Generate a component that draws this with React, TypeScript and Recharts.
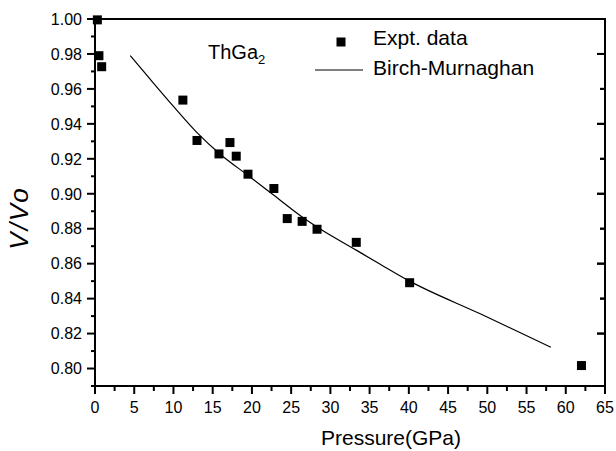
import React from "react";
import { ComposedChart, Scatter, Line, XAxis, YAxis } from "recharts";

const exptP = [0.3, 0.5, 0.85, 11.2, 13.0, 15.8, 17.2, 18.0, 19.5, 22.8, 24.5, 26.4, 28.3, 33.3, 40.1, 62.0];
const exptV = [0.9995, 0.979, 0.9727, 0.9536, 0.9305, 0.9228, 0.9293, 0.9215, 0.9112, 0.903, 0.8858, 0.8842, 0.8797, 0.8722, 0.8491, 0.8017];

// Birch-Murnaghan fit curve, traced points
const fitP = [4.5, 7, 10, 13, 16, 19.5, 22.8, 26.4, 28.3, 33.35, 36.3, 40.1, 49.1, 58.1];
const fitV = [0.979, 0.9657, 0.95, 0.935, 0.9225, 0.9105, 0.8991, 0.8867, 0.881, 0.8676, 0.8598, 0.85, 0.8313, 0.8122];

const xTicks = [0, 2.5, 5, 7.5, 10, 12.5, 15, 17.5, 20, 22.5, 25, 27.5, 30, 32.5, 35, 37.5, 40, 42.5, 45, 47.5, 50, 52.5, 55, 57.5, 60, 62.5, 65];
const yTicks = [0.79, 0.8, 0.81, 0.82, 0.83, 0.84, 0.85, 0.86, 0.87, 0.88, 0.89, 0.9, 0.91, 0.92, 0.93, 0.94, 0.95, 0.96, 0.97, 0.98, 0.99, 1.0];
const yRightTicks = [0.82, 0.84, 0.86, 0.88, 0.9, 0.92, 0.94, 0.96, 0.98];
const Y_MIN = 0.79;
const Y_MAX = 1.0;

const FONT = '"Liberation Sans", Arial, Helvetica, sans-serif';

// plot box (from margins + axis sizes below)
const BOX = { left: 95, top: 19, right: 605, bottom: 386 };

const expt = exptP.map((p, i) => ({ p, v: exptV[i] }));
const fit = fitP.map((p, i) => ({ p, v: fitV[i] }));

const XTick = (props: any) => {
  const { x, y, payload } = props;
  const v = payload.value;
  const major = Math.abs(v % 5) < 1e-6;
  return (
    <g>
      <line x1={x} x2={x} y1={y} y2={y + (major ? 8 : 5)} stroke="#000" strokeWidth={2} />
      {major && (
        <text x={x} y={y + 27} textAnchor="middle" fontSize={16} fontFamily={FONT} fill="#000">
          {v}
        </text>
      )}
    </g>
  );
};

const YTick = (props: any) => {
  const { x, y, payload } = props;
  const v = payload.value;
  const major = Math.round(v * 100) % 2 === 0;
  return (
    <g>
      <line x1={x - (major ? 8 : 4)} x2={x} y1={y} y2={y} stroke="#000" strokeWidth={2} />
      {major && (
        <text x={x - 13} y={y} dy="0.36em" textAnchor="end" fontSize={16} fontFamily={FONT} fill="#000">
          {v.toFixed(2)}
        </text>
      )}
    </g>
  );
};

const RightTick = (props: any) => {
  const { x, y, index } = props;
  const len = index % 2 === 0 ? 8 : 5;
  return <line x1={x - len} x2={x} y1={y} y2={y} stroke="#000" strokeWidth={2} />;
};

const Square = (props: any) => {
  const { cx, cy } = props;
  return <rect x={cx - 4.5} y={cy - 4.5} width={9} height={9} fill="#000" />;
};

// top/right frame, compound name and legend
const TopLabels = () => {
  const h = BOX.bottom - BOX.top;
  return (
    <g fontFamily={FONT} fill="#000">
      <line x1={BOX.left} x2={BOX.right + 1} y1={BOX.top} y2={BOX.top} stroke="#000" strokeWidth={2} />
      <line x1={BOX.right} x2={BOX.right} y1={BOX.top} y2={BOX.bottom} stroke="#000" strokeWidth={2} />
      {yRightTicks.map((v, i) => {
        const ty = BOX.top + ((Y_MAX - v) / (Y_MAX - Y_MIN)) * h;
        const len = i % 2 === 0 ? 8 : 5;
        return <line key={v} x1={BOX.right - len} x2={BOX.right} y1={ty} y2={ty} stroke="#000" strokeWidth={2} />;
      })}
      <text x={208} y={59} fontSize={20}>
        ThGa<tspan dy={5} fontSize={13}>2</tspan>
      </text>
      <rect x={336.5} y={37.5} width={9} height={9} fill="#000" />
      <text x={373} y={45} fontSize={21}>Expt. data</text>
      <line x1={315} x2={363} y1={70} y2={70} stroke="#000" strokeWidth={1.2} />
      <text x={373} y={75} fontSize={21}>Birch-Murnaghan</text>
    </g>
  );
};

export default function App() {
  return (
    <div style={{ position: "absolute", left: 0, top: 0, background: "#fff" }}>
      <ComposedChart width={616} height={451} margin={{ top: 18, right: 10, left: 0, bottom: 0 }}>
        <XAxis
          xAxisId="b"
          type="number"
          dataKey="p"
          domain={[0, 65]}
          ticks={xTicks}
          interval={0}
          height={65}
          tickSize={0}
          tickMargin={0}
          tickLine={false}
          tick={<XTick />}
          axisLine={{ stroke: "#000", strokeWidth: 2 }}
          label={{
            content: () => (
              <text x={391} y={445} textAnchor="middle" fontSize={21} fontFamily={FONT} fill="#000">
                Pressure(GPa)
              </text>
            ),
          }}
        />
        <XAxis
          xAxisId="t"
          orientation="top"
          type="number"
          dataKey="p"
          domain={[0, 65]}
          height={1}
          tick={false}
          axisLine={{ stroke: "#000", strokeWidth: 2 }}
          label={{ content: () => <TopLabels /> }}
        />
        <YAxis
          yAxisId="l"
          type="number"
          domain={[Y_MIN, Y_MAX]}
          ticks={yTicks}
          interval={0}
          width={95}
          tickSize={0}
          tickMargin={0}
          tickLine={false}
          tick={<YTick />}
          axisLine={{ stroke: "#000", strokeWidth: 2 }}
          label={{
            content: () => (
              <text
                x={28}
                y={218}
                transform="rotate(-90 28 218)"
                textAnchor="middle"
                fontSize={26}
                fontStyle="italic"
                letterSpacing={2}
                fontFamily={FONT}
                fill="#000"
              >
                V/Vo
              </text>
            ),
          }}
        />
        <YAxis
          yAxisId="r"
          orientation="right"
          type="number"
          domain={[Y_MIN, Y_MAX]}
          ticks={yRightTicks}
          interval={0}
          width={1}
          tickSize={0}
          tickMargin={0}
          tickLine={false}
          tick={<RightTick />}
          axisLine={{ stroke: "#000", strokeWidth: 2 }}
        />
        <Line
          xAxisId="t"
          yAxisId="r"
          data={fit}
          dataKey="v"
          type="monotone"
          stroke="#000"
          strokeWidth={1.2}
          dot={false}
          activeDot={false}
          isAnimationActive={false}
          name="Birch-Murnaghan"
        />
        <Scatter
          xAxisId="b"
          yAxisId="l"
          data={expt}
          dataKey="v"
          shape={<Square />}
          isAnimationActive={false}
          name="Expt. data"
        />
      </ComposedChart>
    </div>
  );
}
